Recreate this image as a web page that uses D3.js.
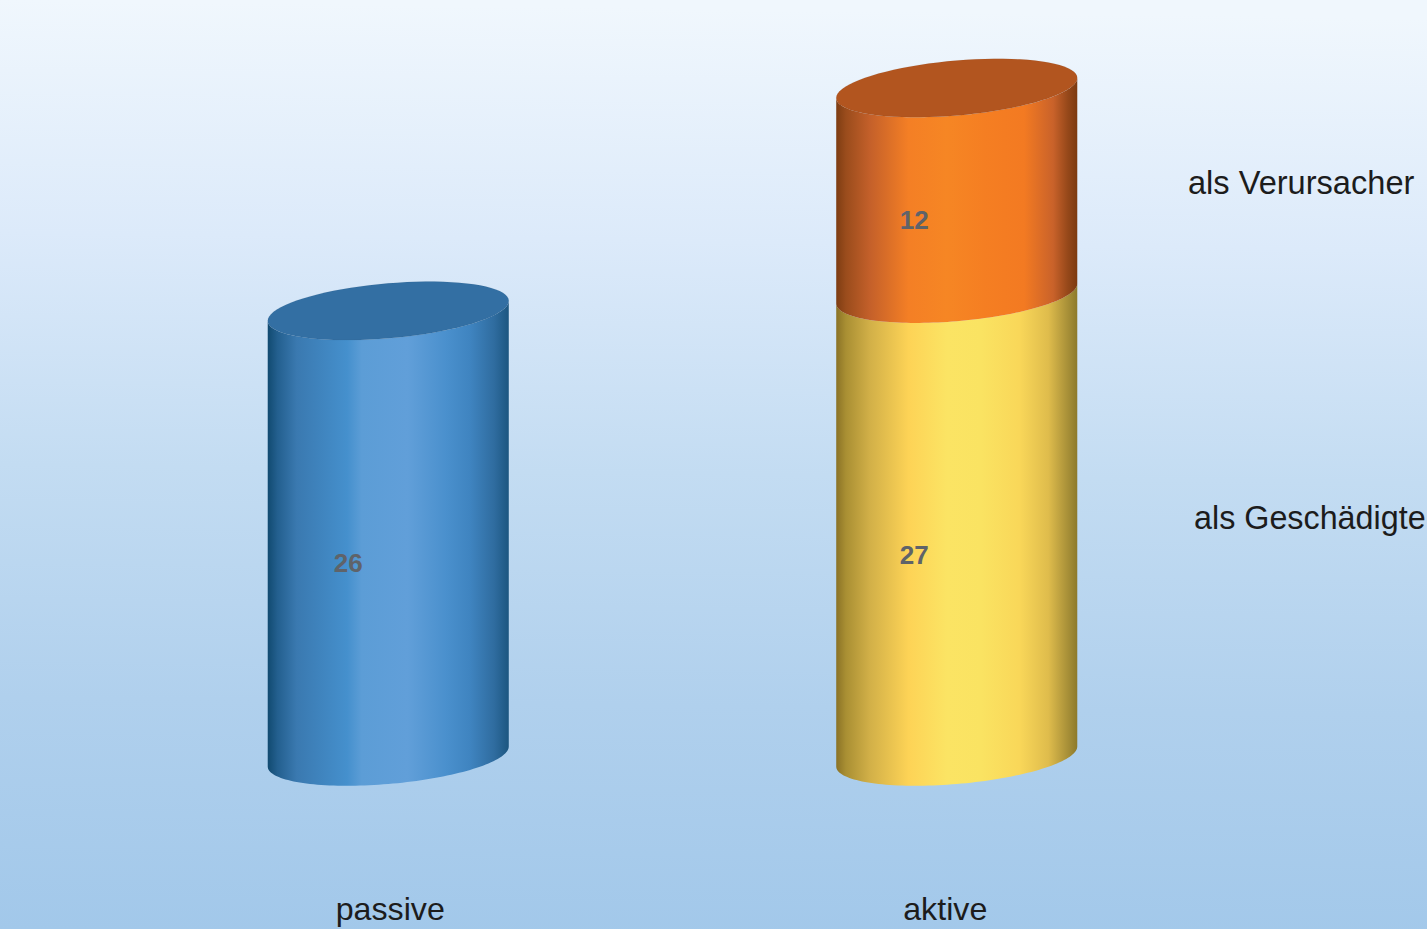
<!DOCTYPE html>
<html><head><meta charset="utf-8">
<script src="https://cdn.jsdelivr.net/npm/d3@7"></script>
<style>html,body{margin:0;padding:0;background:#a2c8ea;overflow:hidden}svg{display:block}text{font-family:"Liberation Sans",Arial,sans-serif}</style>
</head><body><svg id="c" width="1427" height="929"></svg>
<script>
const categories = ["passive", "aktive"];
const seriesNames = ["als Geschädigte", "als Verursacher", "passive"];
const geschaedigte = [0, 27];
const verursacher = [0, 12];
const passiveValues = [26, 0];

const W = 1427, H = 929;
const svg = d3.select("#c");
const x = d3.scaleBand().domain(categories).range([104, 1241]).paddingInner(0.5760).paddingOuter(0.2880);
const y = d3.scaleLinear().domain([0, 39]).range([756.5, 88]);
const rx = x.bandwidth() / 2, ry = 27.5, shear = -10;

const defs = svg.append("defs");
function grad(id, stops) {
  const g = defs.append("linearGradient").attr("id", id).attr("x1", 0).attr("x2", 1).attr("y1", 0).attr("y2", 0);
  stops.forEach(s => g.append("stop").attr("offset", s[0]).attr("stop-color", s[1]));
}
const bg = defs.append("linearGradient").attr("id", "bg").attr("x1", 0.02).attr("x2", 0).attr("y1", 0).attr("y2", 1);
[[0, "#f0f7fd"], [0.25, "#dceafa"], [0.5, "#c3dcf2"], [0.75, "#b0d0ed"], [1, "#a2c8ea"]]
  .forEach(s => bg.append("stop").attr("offset", s[0]).attr("stop-color", s[1]));
grad("gBlue", [[0, "#114a70"], [0.04, "#235f8e"], [0.12, "#3a79b0"], [0.33, "#4590cd"], [0.39, "#5c9dd6"], [0.58, "#619fd9"], [0.74, "#4a90cd"], [0.84, "#3f84c0"], [0.94, "#2f6c9f"], [1, "#1c5680"]]);
grad("gYellow", [[0, "#8a7226"], [0.04, "#a98f33"], [0.14, "#d2b048"], [0.3, "#fdd356"], [0.46, "#fbe464"], [0.6, "#fae362"], [0.76, "#f9d759"], [0.88, "#dfbc4c"], [0.96, "#a89038"], [1, "#8d7a2b"]]);
grad("gOrange", [[0, "#7d3c12"], [0.04, "#9a4c1c"], [0.14, "#c4602a"], [0.3, "#f47f25"], [0.46, "#f68624"], [0.62, "#f57e22"], [0.78, "#f37a22"], [0.9, "#c9622a"], [0.96, "#96481a"], [1, "#7c3a10"]]);

svg.append("rect").attr("width", W).attr("height", H).attr("fill", "url(#bg)");

// a point on the tilted rim of a cylinder section
function rim(cx, cy, t) {
  return [cx + rx * Math.cos(t), cy + ry * Math.sin(t) + shear * Math.cos(t)];
}
const line = d3.line();
function arc(cx, cy, a, b) {
  return d3.range(0, 81).map(i => rim(cx, cy, a + (b - a) * i / 80));
}
function body(cx, y0, y1) {
  const pts = arc(cx, y0, Math.PI, 0).concat(arc(cx, y1, 0, Math.PI));
  return line(pts) + "Z";
}
function ellipse(cx, cy) {
  return line(arc(cx, cy, 0, 2 * Math.PI)) + "Z";
}

function stack(cat, parts, topFill, labelDx) {
  const cx = x(cat) + rx;
  let acc = 0;
  const tops = parts.map(p => { const s = { ...p, from: acc, to: acc + p.value }; acc += p.value; return s; });
  svg.append("g").selectAll("path").data(tops).join("path")
    .attr("d", d => body(cx, y(d.from), y(d.to)))
    .attr("fill", d => d.fill);
  svg.append("path").attr("d", ellipse(cx, y(acc))).attr("fill", topFill)
     .attr("stroke", "rgba(0,0,0,0.04)").attr("stroke-width", 1);
  svg.append("g").selectAll("text").data(tops).join("text")
    .attr("x", cx + labelDx)
    .attr("y", d => (y(d.from) + y(d.to)) / 2 + 38.5)
    .attr("text-anchor", "middle")
    .attr("font-size", 26).attr("font-weight", "bold").attr("fill", "#5f6369")
    .text(d => d.value);
}
stack(categories[0], [{ value: passiveValues[0], fill: "url(#gBlue)" }], "#336fa3", -40);
stack(categories[1], [
  { value: geschaedigte[1], fill: "url(#gYellow)" },
  { value: verursacher[1], fill: "url(#gOrange)" }
], "#b2551f", -42.5);

svg.append("g").selectAll("text").data(categories).join("text")
  .attr("x", (d, i) => x(d) + rx + (i ? -11.5 : 2))
  .attr("y", 920)
  .attr("text-anchor", "middle")
  .attr("font-size", 32.2).attr("fill", "#1c1c1c")
  .text(d => d);

svg.append("text").attr("x", 1188).attr("y", 194).attr("font-size", 32.6).attr("fill", "#1c1c1c").text(seriesNames[1]);
svg.append("text").attr("x", 1194).attr("y", 529).attr("font-size", 32.3).attr("fill", "#1c1c1c").text(seriesNames[0]);
</script></body></html>
